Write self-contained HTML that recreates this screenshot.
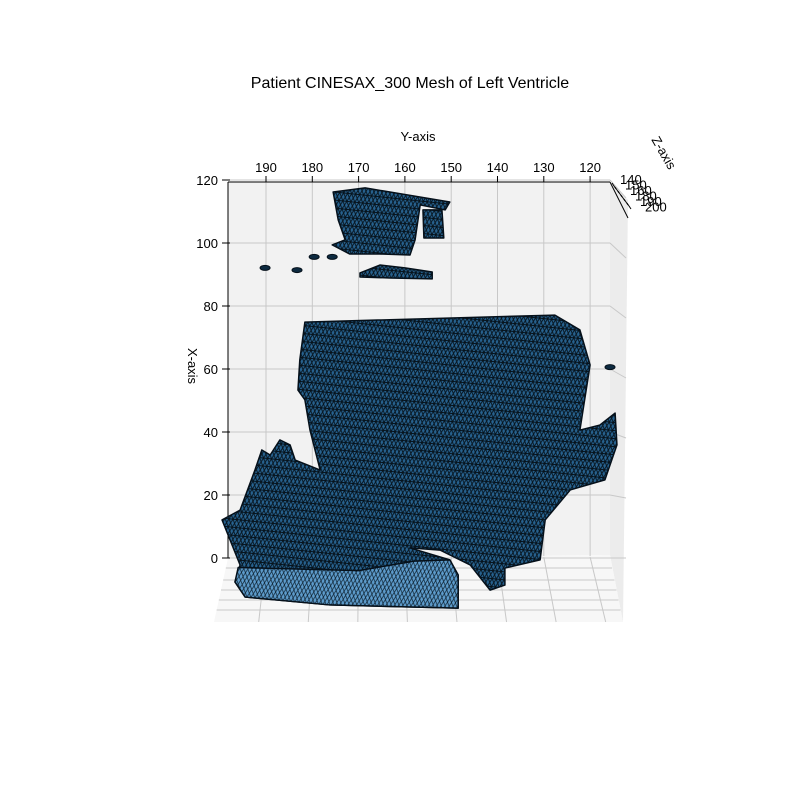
<!DOCTYPE html>
<html><head><meta charset="utf-8"><style>
body{margin:0;background:#fff;}
svg{display:block;font-family:"Liberation Sans",sans-serif;}
</style></head><body>
<svg id="chart" width="800" height="800" viewBox="0 0 800 800">
<defs>
<pattern id="hatch" width="4" height="8" patternUnits="userSpaceOnUse" patternTransform="rotate(6)">
<rect width="4" height="8" fill="#27628f"/>
<path d="M0 0L4 8M4 0L0 8M0 4H4" stroke="#06121b" stroke-width="0.9" fill="none"/>
</pattern>
<pattern id="hatch2" width="4" height="8" patternUnits="userSpaceOnUse" patternTransform="rotate(6)">
<rect width="4" height="8" fill="#5d9bcb"/>
<path d="M0 0L4 8M4 0L0 8" stroke="#0b1d2a" stroke-width="0.7" fill="none"/>
</pattern>
</defs>
<text x="410" y="88" text-anchor="middle" font-size="16">Patient CINESAX_300 Mesh of Left Ventricle</text>
<g id="panes">
<polygon points="228,182 610,182 610,555 228,558" fill="#f2f2f2"/>
<polygon points="610,182 628,200 623,622 610,555" fill="#ececec"/>
<polygon points="228,558 610,555 623,622 214,622" fill="#f7f7f7"/>
</g>
<g id="grid" stroke="#c8c8c8" stroke-width="1" fill="none"></g>
<g id="axes"></g>
<g id="mesh"></g>
<text x="418" y="141" text-anchor="middle" font-size="13">Y-axis</text>
<text x="0" y="0" font-size="13" transform="translate(188,366) rotate(90)" text-anchor="middle">X-axis</text>
<text x="0" y="0" font-size="13" transform="translate(660,155) rotate(60)" text-anchor="middle">Z-axis</text>
</svg>
<script>
const yTicks=[190,180,170,160,150,140,130,120];
const xTicks=[0,20,40,60,80,100,120];
const zTicks=[140,150,160,180,190,200];
const mainBody=[[181.6,74.9],[127.6,77.1],[122.2,72.4],[120.0,61.3],[122.2,40.6],[117.9,42.2],[114.6,46.0],[114.2,35.9],[116.8,24.8],[124.3,21.6],[129.7,12.1],[130.8,-0.6],[138.4,-3.2],[138.4,-8.6],[141.6,-10.2],[145.9,-2.2],[152.4,2.5],[158.9,3.2],[150.3,-0.6],[148.5,-5.4],[148.5,-15.9],[176.2,-14.9],[194.5,-12.4],[196.7,-7.6],[195.6,-2.2],[199.5,12.1],[195.6,15.2],[192.4,27.9],[190.9,34.3],[189.1,32.7],[187.0,37.5],[184.8,35.9],[183.7,31.1],[178.3,27.9],[180.5,40.6],[181.6,50.2],[183.1,53.3],[182.7,62.9]];
const baseSkirt=[[196,-3],[170,-4],[158,-1],[150.3,-0.6],[148.5,-5.4],[148.5,-15.9],[176.2,-14.9],[194.5,-12.4],[196.7,-7.6]];
const topCluster=[[175.5,116.2],[168.6,117.5],[150.3,113.0],[151.3,110.5],[156.7,112.1],[157.8,101.0],[158.9,96.2],[165.4,96.5],[171.9,96.5],[175.7,99.4],[172.9,101.0],[174.4,107.3]];
const sidePiece=[[156.1,110.5],[152.0,110.5],[151.6,101.6],[155.9,101.6]];
const midRow=[[169.7,90.5],[165.4,93.0],[160.0,92.1],[154.1,90.8],[154.1,88.6],[163.2,88.9],[169.7,89.2]];
const dots=[[190.2,92.1],[183.3,91.4],[179.6,95.6],[175.7,95.6],[115.7,60.6]];

const ns="http://www.w3.org/2000/svg";
function yS(v){return 266+(190-v)*4.63;}
function xS(v){return 558-v*3.15;}
function mk(tag,attrs,parent){const e=document.createElementNS(ns,tag);for(const k in attrs)e.setAttribute(k,attrs[k]);parent.appendChild(e);return e;}
const grid=document.getElementById('grid'),axes=document.getElementById('axes'),mesh=document.getElementById('mesh');
const bottomX=v=>214+(yS(v)-228)*(623-214)/(610-228)+4;
yTicks.forEach(v=>{
  const l=mk('line',{x1:yS(v),y1:182,x2:yS(v),y2:556},grid);
  
  
  const f=mk('line',{x1:yS(v),y1:557,x2:bottomX(v),y2:622},grid);
  
  
  const t=mk('line',{x1:yS(v),y1:176,x2:yS(v),y2:182,stroke:'#000'},axes);
  
  
  const tx=mk('text',{x:yS(v),y:172,'text-anchor':'middle','font-size':13},axes);
  tx.textContent=v;
  
  
});
xTicks.forEach(v=>{
  const l=mk('line',{x1:228,y1:xS(v),x2:610,y2:xS(v)},grid);
  
  
  const s=mk('line',{x1:610,y1:xS(v),x2:626,y2:xS(v)+(v/120)*18},grid);
  
  
  const t=mk('line',{x1:222,y1:xS(v),x2:230,y2:xS(v),stroke:'#000'},axes);
  
  
  const tx=mk('text',{x:218,y:xS(v)+5,'text-anchor':'end','font-size':13},axes);
  tx.textContent=v;
  
  
});
[568,580,590,600,610].forEach(y=>{
  const fr=(y-558)/64;
  const l=mk('line',{x1:228-14*fr,y1:y,x2:610+13*fr,y2:y},grid);
  
  
});
mk('line',{x1:228,y1:182,x2:610,y2:182,stroke:'#000'},axes);
mk('line',{x1:228,y1:182,x2:228,y2:558,stroke:'#000'},axes);
mk('line',{x1:610,y1:182,x2:628,y2:218,stroke:'#000'},axes);
zTicks.forEach((v,i)=>{
  const y=183+i*4,x=612+i*3;
  mk('line',{x1:x,y1:y,x2:x+4,y2:y+6,stroke:'#000'},axes);
  const tx=mk('text',{x:x+8+i*2,y:y+1+i*1.5,'font-size':13},axes);
  tx.textContent=v;
  
  
});
function poly(arr,name,fill){
  const p=mk('polygon',{points:arr.map(d=>yS(d[0])+','+xS(d[1])).join(' '),fill:fill||'url(#hatch)',stroke:'#05101a','stroke-width':1.5,'stroke-linejoin':'round'},mesh);
  
  
}
poly(mainBody,'mesh-main-body');
poly(baseSkirt,'mesh-base-skirt','url(#hatch2)');
poly(topCluster,'mesh-top-fragment');
poly(sidePiece,'mesh-top-side-fragment');
poly(midRow,'mesh-mid-fragment');
dots.forEach(d=>{
  const e=mk('ellipse',{cx:yS(d[0]),cy:xS(d[1]),rx:5,ry:2.5,fill:'#0d2a40',stroke:'#05101a'},mesh);
  
  
});
</script>
</body></html>
